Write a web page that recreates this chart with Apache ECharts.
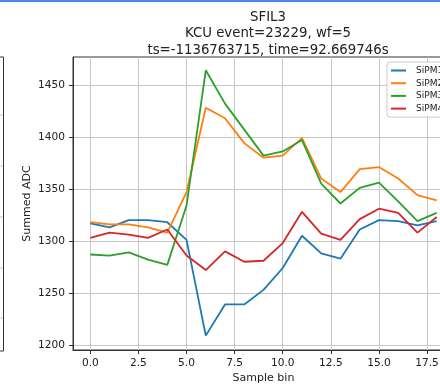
<!DOCTYPE html>
<html>
<head>
<meta charset="utf-8">
<script src="https://cdn.jsdelivr.net/npm/echarts@6/dist/echarts.min.js"></script>
<style>
  html, body { margin: 0; padding: 0; background: #fff; }
  #chart { width: 440px; height: 385px; }
</style>
</head>
<body>
<div id="chart"></div>
<script>
// sample bins 0..18
var sampleBins = [0, 1, 2, 3, 4, 5, 6, 7, 8, 9, 10, 11, 12, 13, 14, 15, 16, 17, 18];

// summed ADC per SiPM
var sipm1 = [1317, 1313, 1320, 1320, 1318, 1301, 1209, 1239, 1239, 1253, 1274, 1305, 1288, 1283, 1311, 1320, 1319, 1315, 1319];
var sipm2 = [1318, 1316, 1316, 1313, 1308, 1347, 1428, 1418, 1394, 1380, 1382, 1399, 1360, 1347, 1369, 1371, 1360, 1344, 1339];
var sipm3 = [1287, 1286, 1289, 1282, 1277, 1334, 1464, 1432, 1407, 1382, 1386, 1397, 1355, 1336, 1351, 1356, 1338, 1319, 1327];
var sipm4 = [1303, 1308, 1306, 1303, 1311, 1286, 1272, 1290, 1280, 1281, 1298, 1328, 1307, 1301, 1321, 1331, 1327, 1308, 1323];

var seriesNames = ['SiPM1', 'SiPM2', 'SiPM3', 'SiPM4'];
var colors = ['#1f77b4', '#ff7f0e', '#2ca02c', '#d62728'];

var xTicks = [0, 2.5, 5, 7.5, 10, 12.5, 15, 17.5];
var yTicks = [1200, 1250, 1300, 1350, 1400, 1450];

var titleText = 'SFIL3\nKCU event=23229, wf=5\nts=-1136763715, time=92.669746s';

var font = 'DejaVu Sans';

function pairs(ys) {
  var out = [];
  for (var i in sampleBins) out.push([sampleBins[i], ys[i]]);
  return out;
}

var allData = [sipm1, sipm2, sipm3, sipm4];
var series = [];
for (var k = 0; k < allData.length; k++) {
  series.push({
    name: seriesNames[k],
    type: 'line',
    data: pairs(allData[k]),
    symbol: 'none',
    color: colors[k],
    lineStyle: { width: 1.8, color: colors[k] },
    z: 3 + k
  });
}

var myChart = echarts.init(document.getElementById('chart'));
myChart.setOption({
  animation: false,
  backgroundColor: '#fff',
  title: {
    text: titleText,
    left: 263,
    top: 4,
    textAlign: 'center',
    textStyle: { fontFamily: font, fontSize: 13.3, fontWeight: 'normal', color: '#222', lineHeight: 16.5 }
  },
  legend: {
    data: seriesNames,
    orient: 'vertical',
    left: 387,
    top: 62,
    icon: 'rect',
    itemWidth: 15,
    itemHeight: 2,
    itemGap: 1.7,
    padding: [3, 20, 3, 4],
    backgroundColor: 'rgba(255,255,255,0.85)',
    borderColor: '#cccccc',
    borderWidth: 1,
    borderRadius: 3,
    textStyle: { fontFamily: font, fontSize: 9, color: '#222', lineHeight: 11, padding: [0, 0, 0, 5] }
  },
  grid: {
    left: 73,
    top: 57,
    right: -14,
    bottom: 35,
    show: true,
    borderColor: '#333',
    borderWidth: 1,
    containLabel: false,
    outerBoundsMode: 'none'
  },
  xAxis: {
    type: 'value',
    min: -0.9,
    max: 18.9,
    name: 'Sample bin',
    nameLocation: 'middle',
    nameGap: 23,
    nameMoveOverlap: false,
    nameTextStyle: { fontFamily: font, fontSize: 11, color: '#222' },
    axisLine: { show: true, onZero: false, lineStyle: { color: '#333', width: 1 } },
    axisTick: { show: true, inside: false, length: 4, customValues: xTicks, lineStyle: { color: '#333' } },
    axisLabel: {
      customValues: xTicks,
      margin: 8,
      fontFamily: font, fontSize: 10.6, color: '#222',
      formatter: function (v) { return v.toFixed(1); }
    },
    splitLine: { show: true, lineStyle: { color: '#c8c8c8', width: 1 } }
  },
  yAxis: {
    type: 'value',
    min: 1195.2,
    max: 1476.8,
    name: 'Summed ADC',
    nameLocation: 'middle',
    nameGap: 40,
    nameMoveOverlap: false,
    nameTextStyle: { fontFamily: font, fontSize: 11, color: '#222' },
    axisLine: { show: true, onZero: false, lineStyle: { color: '#333', width: 1 } },
    axisTick: { show: true, inside: false, length: 4, customValues: yTicks, lineStyle: { color: '#333' } },
    axisLabel: {
      customValues: yTicks,
      margin: 8,
      fontFamily: font, fontSize: 10.6, color: '#222',
      formatter: function (v) { return String(v); }
    },
    splitLine: { show: true, lineStyle: { color: '#c8c8c8', width: 1 } }
  },
  graphic: [
    // blue frame line at the top of the screenshot
    { type: 'rect', shape: { x: 0, y: 0, width: 440, height: 2 }, style: { fill: '#4a86e8' } },
    // edge of the neighbouring panel on the left
    { type: 'polyline', shape: { points: [[0, 57], [3.5, 57], [3.5, 351], [0, 351]] }, style: { stroke: '#333', lineWidth: 1, fill: null } },
    { type: 'line', shape: { x1: 0, y1: 115, x2: 3, y2: 115 }, style: { stroke: '#c8c8c8', lineWidth: 1 } },
    { type: 'line', shape: { x1: 0, y1: 166, x2: 3, y2: 166 }, style: { stroke: '#c8c8c8', lineWidth: 1 } },
    { type: 'line', shape: { x1: 0, y1: 217, x2: 3, y2: 217 }, style: { stroke: '#c8c8c8', lineWidth: 1 } },
    { type: 'line', shape: { x1: 0, y1: 268, x2: 3, y2: 268 }, style: { stroke: '#c8c8c8', lineWidth: 1 } },
    { type: 'line', shape: { x1: 0, y1: 318, x2: 3, y2: 318 }, style: { stroke: '#c8c8c8', lineWidth: 1 } }
  ],
  series: series
});
</script>
</body>
</html>
